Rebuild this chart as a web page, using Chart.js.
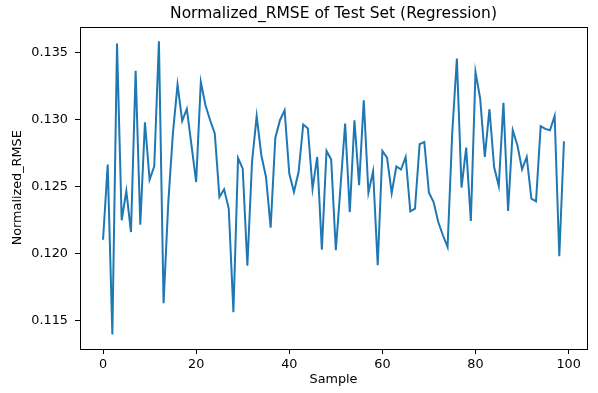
<!DOCTYPE html>
<html>
<head>
<meta charset="utf-8">
<script src="https://cdn.jsdelivr.net/npm/chart.js@4"></script>
<style>
  body { margin: 0; background: #fff; }
  canvas { display: block; }
</style>
</head>
<body>
<canvas id="rmseChart" width="598" height="393"></canvas>
<script>
// normalized RMSE per test sample
const rmseValues = [
  0.12104, 0.12664, 0.11398, 0.13567, 0.12249, 0.12467, 0.12161, 0.13363, 0.12216, 0.12980,
  0.12552, 0.12651, 0.13584, 0.11631, 0.12373, 0.12896, 0.13261, 0.12990, 0.13079, 0.12808,
  0.12534, 0.13281, 0.13107, 0.12995, 0.12896, 0.12422, 0.12480, 0.12336, 0.11564, 0.12713,
  0.12634, 0.11910, 0.12684, 0.13025, 0.12734, 0.12572, 0.12194, 0.12863, 0.12995, 0.13069,
  0.12597, 0.12460, 0.12609, 0.12963, 0.12933, 0.12485, 0.12721, 0.12030, 0.12766, 0.12701,
  0.12025, 0.12497, 0.12970, 0.12310, 0.12995, 0.12510, 0.13144, 0.12455, 0.12614, 0.11913,
  0.12766, 0.12716, 0.12452, 0.12651, 0.12627, 0.12721, 0.12316, 0.12336, 0.12816, 0.12833,
  0.12455, 0.12385, 0.12236, 0.12137, 0.12049, 0.12900, 0.13455, 0.12493, 0.12791, 0.12243,
  0.13355, 0.13157, 0.12721, 0.13077, 0.12646, 0.12505, 0.13124, 0.12318, 0.12920, 0.12808,
  0.12629, 0.12721, 0.12410, 0.12390, 0.12950, 0.12930, 0.12920, 0.13027, 0.11980, 0.12838
];
const xTickValues = [0, 20, 40, 60, 80, 100];
const yTickValues = [0.115, 0.120, 0.125, 0.130, 0.135];
const xLimits = [-4.95, 103.95];
const yLimits = [0.11289, 0.13693];

const points = rmseValues.map((v, i) => ({ x: i, y: v }));

const FONT = 'DejaVu Sans';

// matplotlib style box around the axes
const frameBox = {
    id: 'frameBox',
    afterDraw: (chart) => {
        const { ctx, chartArea: a } = chart;
        ctx.save();
        ctx.strokeStyle = '#000';
        ctx.lineWidth = 1;
        ctx.strokeRect(Math.round(a.left) + 0.5, Math.round(a.top) + 0.5,
            Math.round(a.right - a.left), Math.round(a.bottom - a.top));
        ctx.restore();
    }
};

new Chart(document.getElementById('rmseChart').getContext('2d'), {
    type: 'line',
    data: {
        datasets: [{
            data: points,
            borderColor: '#1f77b4',
            borderWidth: 2,
            pointRadius: 0,
            tension: 0,
            fill: false
        }]
    },
    options: {
        responsive: false,
        animation: false,
        layout: { padding: { left: 0, right: 11, top: 0, bottom: 0 } },
        plugins: {
            legend: { display: false },
            tooltip: { enabled: false },
            title: {
                display: true,
                text: 'Normalized_RMSE of Test Set (Regression)',
                color: '#000',
                fullSize: false,
                font: { family: FONT, size: 15.5, weight: 'normal' },
                padding: { top: 5, bottom: 3 }
            }
        },
        scales: {
            x: {
                type: 'linear',
                min: xLimits[0],
                max: xLimits[1],
                afterBuildTicks: (scale) => { scale.ticks = xTickValues.map(v => ({ value: v })); },
                afterFit: (scale) => { scale.height = 44; },
                grid: { drawOnChartArea: false, drawTicks: true, tickLength: 5, color: '#000' },
                border: { display: false },
                ticks: { color: '#000', padding: 3, maxRotation: 0,
                         font: { family: FONT, size: 12.8 } },
                title: {
                    display: true, text: 'Sample', color: '#000',
                    font: { family: FONT, size: 12.8 },
                    padding: { top: 0, bottom: 6 }
                }
            },
            y: {
                type: 'linear',
                min: yLimits[0],
                max: yLimits[1],
                afterBuildTicks: (scale) => { scale.ticks = yTickValues.map(v => ({ value: v })); },
                afterFit: (scale) => { scale.width = 80; },
                grid: { drawOnChartArea: false, drawTicks: true, tickLength: 5, color: '#000' },
                border: { display: false },
                ticks: { color: '#000', padding: 7,
                         font: { family: FONT, size: 12.8 },
                         callback: (v) => v.toFixed(3) },
                title: {
                    display: true, text: 'Normalized_RMSE', color: '#000',
                    font: { family: FONT, size: 12.8 },
                    padding: { top: 10, bottom: 0 }
                }
            }
        }
    },
    plugins: [frameBox]
});
</script>
</body>
</html>
